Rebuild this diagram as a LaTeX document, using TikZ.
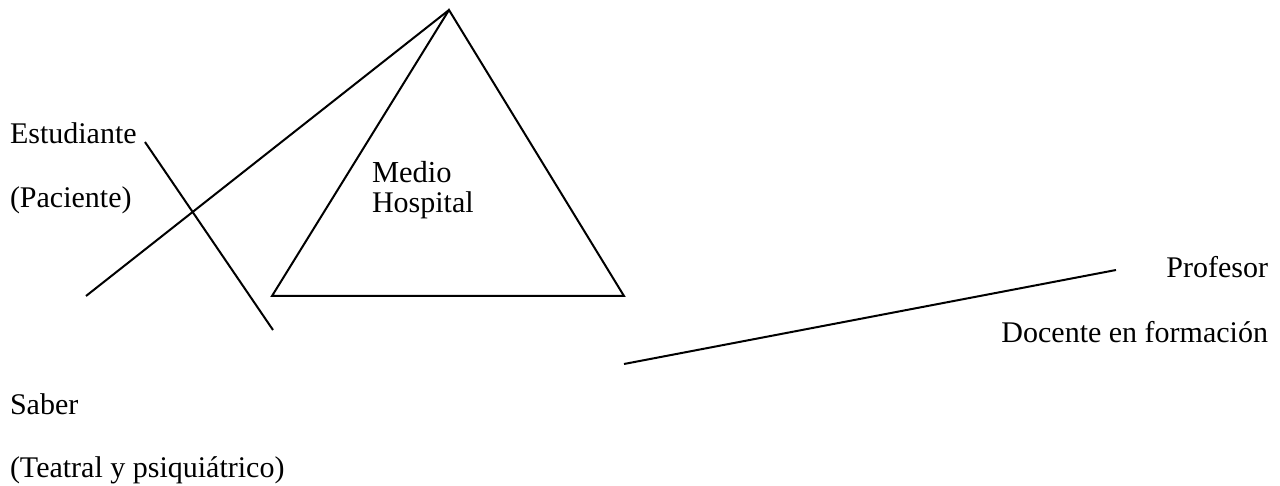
\documentclass[tikz,border=0pt]{standalone}
\usepackage{fontspec}
\setmainfont{Liberation Serif}
\begin{document}
\begin{tikzpicture}[x=1pt,y=-1pt,
  lbl/.style={inner sep=0pt,outer sep=0pt,font=\fontsize{30}{30}\selectfont},
  ln/.style={line width=2pt,line cap=butt}]
\useasboundingbox (0,0) rectangle (1280,486);
% triangle
\coordinate (apex) at (449,10);
\coordinate (bl) at (272,296);
\coordinate (br) at (624,296);
\draw[ln,line join=miter] (apex) -- (bl) -- (br) -- cycle;
% lines
\coordinate (a1) at (86,296);
\draw[ln] (apex) -- (a1);
\coordinate (b1) at (145,142);
\coordinate (b2) at (273,330);
\draw[ln] (b1) -- (b2);
\coordinate (c1) at (624,364);
\coordinate (c2) at (1116,270);
\draw[ln] (c1) -- (c2);
% texts
\node[lbl,anchor=base west] (est) at (10,144) {Estudiante};
\node[lbl,anchor=base west] (pac) at (10,208) {(Paciente)};
\node[lbl,anchor=north west,align=left] (med) at (372,161) {\fontsize{30.5}{30}\selectfont Medio\\Hospital};
\node[lbl,anchor=base east] (prof) at (1268,278) {Profesor};
\node[lbl,anchor=base east] (doc) at (1268,342) {Docente en formación};
\node[lbl,anchor=base west] (sab) at (10,414) {Saber};
\node[lbl,anchor=base west] (teat) at (10,477) {(Teatral y psiquiátrico)};
\end{tikzpicture}
\end{document}
